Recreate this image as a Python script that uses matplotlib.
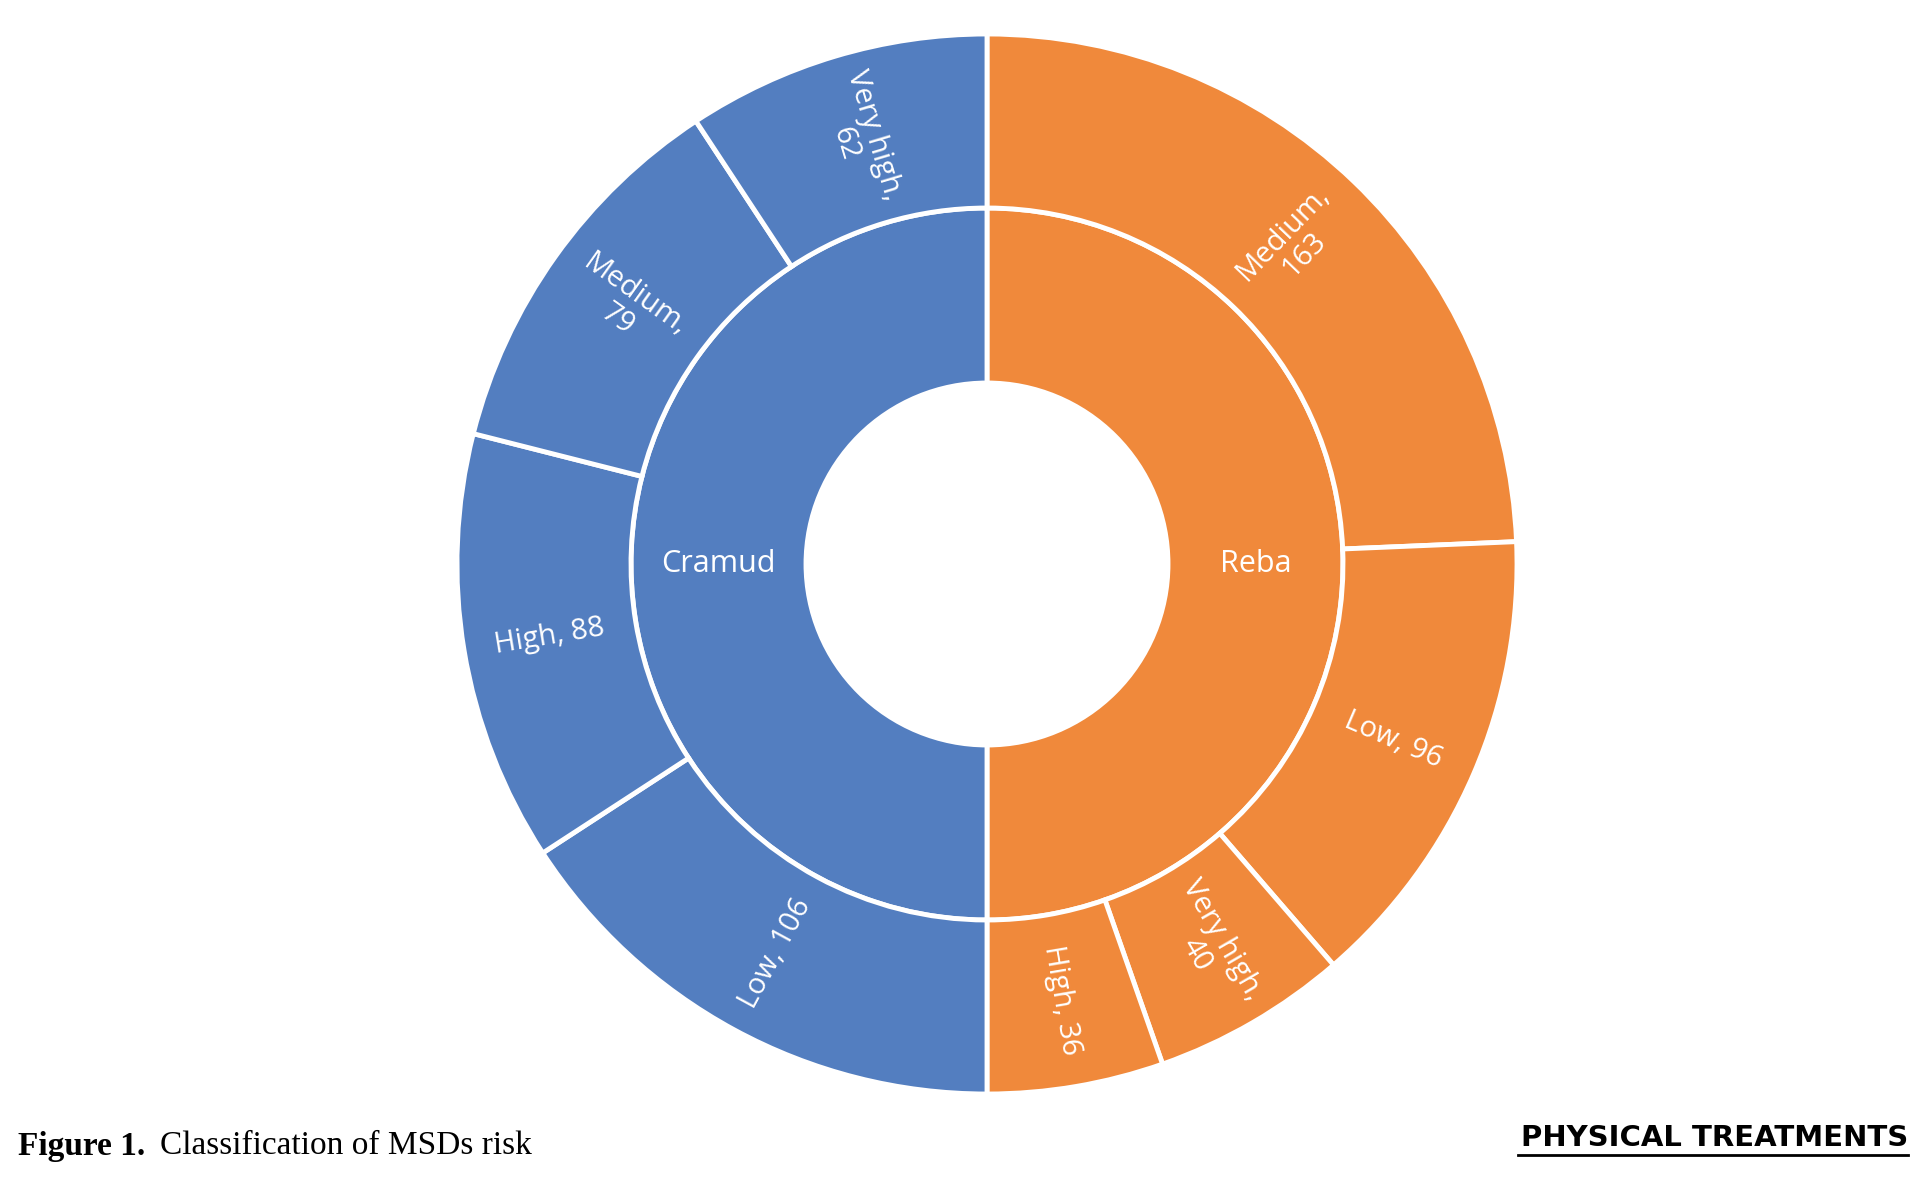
import matplotlib.pyplot as plt
import numpy as np

groups = ["Reba", "Cramud"]
group_values = [335, 335]
risk_labels = ["Medium", "Low", "Very high", "High", "Low", "High", "Medium", "Very high"]
risk_values = [163, 96, 40, 36, 106, 88, 79, 62]
risk_group = [0, 0, 0, 0, 1, 1, 1, 1]

colors = ["#F0893B", "#537EC0"]

W, H = 1922, 1201
fig = plt.figure(figsize=(W / 100, H / 100), dpi=100)
ax = fig.add_axes([0, 0, 1, 1])
ax.axis("off")

cx, cy = 987, 637
R_out, R_mid, R_in = 530, 356, 181
wp = dict(edgecolor="white", linewidth=3.5)

ax.pie(group_values, radius=R_mid, center=(cx, cy), startangle=90, counterclock=False,
       colors=colors, wedgeprops=dict(width=R_mid - R_in, **wp))
ax.pie(risk_values, radius=R_out, center=(cx, cy), startangle=90, counterclock=False,
       colors=[colors[g] for g in risk_group], wedgeprops=dict(width=R_out - R_mid, **wp))
ax.set_aspect("equal")
ax.set_xlim(0, W)
ax.set_ylim(0, H)

font = ["Open Sans", "DejaVu Sans"]

def draw_labels(labels, values, r, fmt, fixed=None, size=21):
    total = sum(values)
    cum = 0
    for lab, v in zip(labels, values):
        ang = 90 - (cum + v / 2) / total * 360
        cum += v
        a = np.deg2rad(ang)
        x, y = cx + r * np.cos(a), cy + r * np.sin(a)
        rot = ang if np.cos(a) >= 0 else ang + 180
        rot = (rot + 180) % 360 - 180
        if fixed is not None:
            rot = fixed
        ax.text(x, y, fmt(lab, v), rotation=rot, rotation_mode="anchor",
                ha="center", va="center", multialignment="center", color="white",
                fontsize=size, family=font, linespacing=1.05)

def outer_fmt(lab, v):
    if lab in ("Medium", "Very high"):
        return f"{lab},\n{v}"
    return f"{lab}, {v}"

draw_labels(risk_labels, risk_values, (R_out + R_mid) / 2, outer_fmt)
draw_labels(groups, group_values, (R_mid + R_in) / 2, lambda l, v: l, fixed=0, size=22)

serif = ["Liberation Serif", "DejaVu Serif"]
fig.text(18 / W, 1 - 1146 / H, "Figure 1.", fontsize=24, fontweight="bold",
         family=serif, va="center")
fig.text(160 / W, 1 - 1146 / H, "Classification of MSDs risk", fontsize=24,
         family=serif, va="center")
fig.text(1908 / W, 1 - 1138 / H, "PHYSICAL TREATMENTS", fontsize=21, fontweight="heavy",
         family=["DejaVu Sans"], ha="right", va="center")
fig.add_artist(plt.Line2D([1518 / W, 1908 / W], [1 - 1155 / H] * 2, color="black", lw=2))

fig.savefig("out.png", dpi=100)
